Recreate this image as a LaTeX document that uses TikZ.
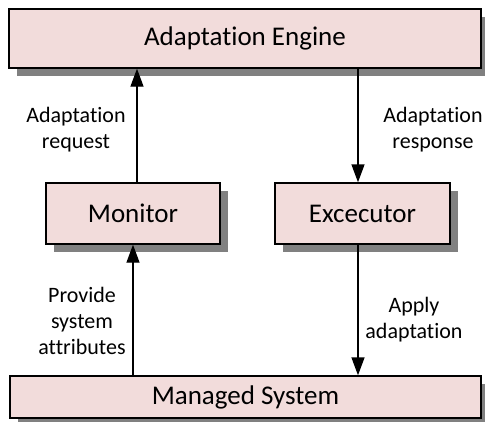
\documentclass[tikz,border=0pt]{standalone}
\usepackage{fontspec}
\setmainfont{Carlito}[Ligatures=NoCommon]
\usetikzlibrary{arrows.meta,shadows}

\definecolor{boxpink}{HTML}{F2DCDB}

\begin{document}
\begin{tikzpicture}[x=1pt,y=-1pt,>={Triangle[length=18pt,width=13pt]},line join=miter,
  box/.style={draw=black,line width=1.4pt,fill=boxpink,inner sep=0pt,
    drop shadow={shadow xshift=8pt,shadow yshift=-8pt,fill=black!50,opacity=1},
    font=\fontsize{27}{30}\selectfont},
  lbl/.style={align=center,inner sep=0pt,font=\fontsize{22}{26}\selectfont},
  flow/.style={->,line width=1.4pt}]
\useasboundingbox (0,0) rectangle (485,421);
% the four blocks
\node[box,minimum width=472pt,minimum height=59pt] (engine) at (245,38.5) {Adaptation Engine};
\node[box,minimum width=174pt,minimum height=61pt] (monitor) at (133,213.5) {Monitor};
\node[box,minimum width=175pt,minimum height=61pt] (executor) at (362.5,213.5) {Excecutor};
\node[box,minimum width=471pt,minimum height=42pt] (managed) at (245.5,397) {Managed System};
% connectors
\draw[flow] ([xshift=4pt]monitor.north) -- ([xshift=4pt]monitor.north |- engine.south);
\draw[flow] ([xshift=-4.5pt]executor.north |- engine.south) -- ([xshift=-4.5pt]executor.north);
\draw[flow] (monitor.south |- managed.north) -- (monitor.south);
\draw[flow] ([xshift=-4.5pt]executor.south) -- ([xshift=-4.5pt]executor.south |- managed.north);
% labels beside the connectors
\node[lbl] (lblreq) at (76,130) {Adaptation\\request};
\node[lbl] (lblresp) at (433,130) {Adaptation\\response};
\node[lbl] (lblattr) at (82,321) {Provide\\system\\attributes};
\node[lbl] (lblapply) at (414,320) {Apply\\adaptation};
\end{tikzpicture}
\end{document}
